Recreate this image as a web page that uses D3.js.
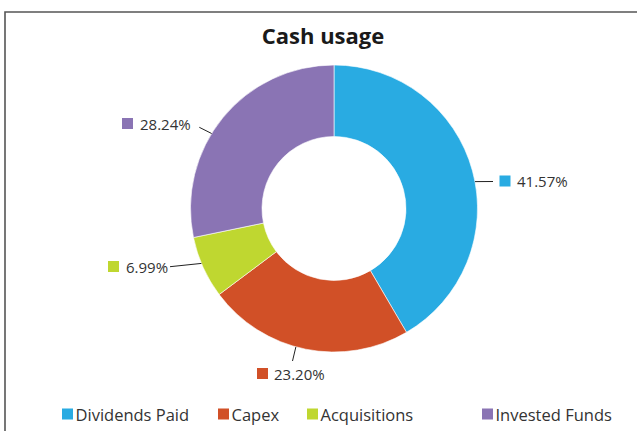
<!DOCTYPE html>
<html><head><meta charset="utf-8">
<script src="https://cdn.jsdelivr.net/npm/d3@7"></script>
<style>html,body{margin:0;padding:0;background:#fff;}svg{display:block;}</style>
</head><body>
<svg id="c" width="637" height="431"></svg>
<script>
const categories = ["Dividends Paid", "Capex", "Acquisitions", "Invested Funds"];
const values = [41.57, 23.20, 6.99, 28.24];
const valueLabels = ["41.57%", "23.20%", "6.99%", "28.24%"];
const colors = ["#29ABE2", "#D15027", "#BFD730", "#8A74B4"];
const title = "Cash usage";

const svg = d3.select("#c");
const W = 637, H = 431;
const cx = 334, cy = 208.5, rOuter = 143.5, rInner = 72;
const font = "'Open Sans', sans-serif";

// frame
svg.append("path").attr("d", `M5,${H} L5,12 L${W},12`).attr("fill", "none")
  .attr("stroke", "#555").attr("stroke-width", 1.6);

svg.append("text").attr("x", 323).attr("y", 44).attr("text-anchor", "middle")
  .attr("font-family", font).attr("font-weight", 700).attr("font-size", 22)
  .attr("fill", "#1a1a1a").text(title);

const pie = d3.pie().sort(null).value(d => d)(values);
const arc = d3.arc().innerRadius(rInner).outerRadius(rOuter);
const g = svg.append("g").attr("transform", `translate(${cx},${cy})`);
g.selectAll("path").data(pie).join("path").attr("d", arc)
  .attr("fill", (d, i) => colors[i]).attr("stroke", "#fff").attr("stroke-width", 0.6);

// label layout: leader start angle on outer arc (deg), leader end point, square position
const labelLayout = [
  {ang: 79.2, end: [493, 181.5], sq: [499.5, 175.5], tx: 517, ty: 187},
  {ang: 195.4, end: [292.5, 361], sq: [257, 368], tx: 274, ty: 380},
  {ang: 247.5, end: [170, 266.7], sq: [108, 261], tx: 126, ty: 272.5},
  {ang: 301.5, end: [199.3, 127.3], sq: [122, 118], tx: 140, ty: 130}
];
labelLayout.forEach((L, i) => {
  const a = L.ang * Math.PI / 180;
  const sx = cx + rOuter * Math.sin(a), sy = cy - rOuter * Math.cos(a);
  svg.append("line").attr("x1", sx).attr("y1", sy).attr("x2", L.end[0]).attr("y2", L.end[1])
    .attr("stroke", "#222").attr("stroke-width", 1);
  svg.append("rect").attr("x", L.sq[0]).attr("y", L.sq[1]).attr("width", 11).attr("height", 11)
    .attr("fill", colors[i]);
  svg.append("text").attr("x", L.tx).attr("y", L.ty).attr("font-family", font)
    .attr("font-size", 15).attr("fill", "#333").text(valueLabels[i]);
});

// legend
const legendX = [62, 218, 307, 482];
const lg = svg.append("g");
categories.forEach((c, i) => {
  lg.append("rect").attr("x", legendX[i]).attr("y", 408.5).attr("width", 11).attr("height", 11)
    .attr("fill", colors[i]);
  lg.append("text").attr("x", legendX[i] + 13.5).attr("y", 420.5).attr("font-family", font)
    .attr("font-size", 16.5).attr("fill", "#333").text(c);
});
</script>
</body></html>
